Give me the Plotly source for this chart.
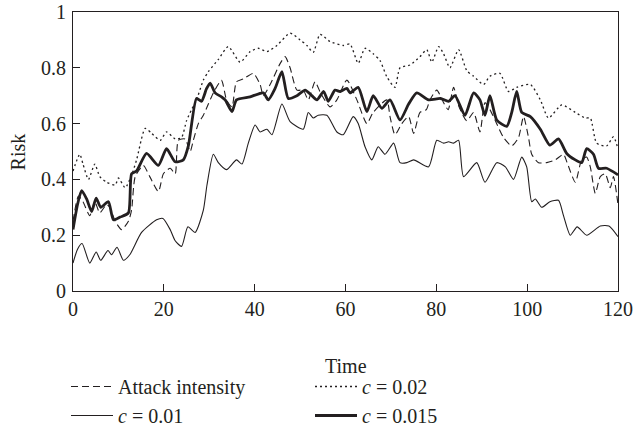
import plotly.graph_objects as go

# ---- data ----
attack_t = [0,1.2,2.2,3.7,4.8,5.9,7.4,8.1,9.3,10.7,
            12.2,12.9,13.7,15.5,16.9,18.8,19.9,21.4,22.5,23.2,
            24.7,25.8,26.5,27.6,28.7,29.8,30.9,32.7,33.8,35,
            36,37.5,39.7,41.2,41.9,43.4,45.6,46.7,47.8,49.3,
            50.7,51.8,53.3,54.5,56.6,58.1,60.3,62.5,64.7,66.1,
            69.1,69.8,70.9,72.4,73.9,75,76.4,77.8,78.6,80.1,
            81.6,82.6,83.8,85,86.7,88.2,89.6,90.7,91.8,93,
            94.8,96.6,98.1,99.2,100.3,101,102.5,104.3,106.2,108,
            108.8,110.6,112,113.1,113.9,115,116.1,117.2,118.3,119,
            120]
attack_v = [0.25,0.34,0.32,0.27,0.32,0.28,0.31,0.30,0.25,0.22,
            0.25,0.29,0.41,0.45,0.41,0.356,0.42,0.44,0.42,0.54,
            0.545,0.50,0.54,0.60,0.63,0.67,0.71,0.755,0.685,0.66,
            0.75,0.76,0.78,0.74,0.70,0.74,0.815,0.84,0.80,0.72,
            0.72,0.685,0.75,0.71,0.66,0.685,0.756,0.685,0.60,0.64,
            0.685,0.625,0.56,0.60,0.625,0.565,0.64,0.65,0.685,0.72,
            0.675,0.65,0.73,0.66,0.61,0.64,0.57,0.675,0.65,0.61,
            0.55,0.52,0.55,0.625,0.55,0.49,0.46,0.46,0.47,0.49,
            0.46,0.39,0.47,0.48,0.445,0.35,0.41,0.42,0.37,0.41,
            0.31]

c002_t = [0,1.5,2.2,3.4,4.8,5.9,7.4,9.3,10,11.5,
          12.9,14,15.9,17.3,19.2,20.6,22.5,23.9,25,26.1,
          27.2,28.7,29.8,32,34.2,36.8,39,40.8,42.7,44.9,
          47.8,50,51.5,52.9,54.4,56.6,59.5,61,62.8,64.3,
          66.1,67.6,69.1,70.9,72,74.2,76.4,77.9,79,80.5,
          81.6,83,84.9,86.7,88.2,90.4,91.8,94,95.9,97.7,
          100.7,102.9,104.7,107.6,110.6,112.8,113.9,115.3,117.5,119,
          120]
c002_v = [0.43,0.49,0.455,0.40,0.455,0.41,0.39,0.38,0.405,0.37,
          0.415,0.47,0.583,0.565,0.54,0.57,0.545,0.55,0.61,0.65,
          0.685,0.756,0.786,0.83,0.876,0.82,0.858,0.87,0.858,0.88,
          0.924,0.90,0.88,0.855,0.92,0.894,0.88,0.885,0.816,0.87,
          0.85,0.826,0.768,0.73,0.80,0.81,0.84,0.865,0.82,0.876,
          0.85,0.80,0.865,0.79,0.77,0.74,0.77,0.78,0.715,0.73,
          0.74,0.685,0.62,0.667,0.64,0.62,0.62,0.53,0.52,0.553,
          0.51]

c001_t = [0,1,2,3.7,5.1,6.1,7.7,8.5,9.7,11.1,
          12.5,15.1,18.4,19.8,21.4,22.5,23.9,25.3,26.9,28.7,
          29.5,30.9,32,33.8,36,37.2,38.6,40.1,41.2,42.7,
          43.8,46,47.8,50.7,51.8,52.9,54,55.9,58.1,59.5,
          61.7,62.8,64.3,65.8,67.2,68.7,70.6,72,73.5,75,
          78.3,80.1,81.6,82.7,83.8,84.9,86,88.9,90.7,93.3,
          95.2,97,98.8,99.9,101,101.8,103.2,105,106.9,108,
          109.5,111,113.1,116.1,118,120]
c001_v = [0.10,0.15,0.17,0.10,0.14,0.11,0.145,0.13,0.157,0.11,
          0.13,0.21,0.255,0.26,0.22,0.18,0.16,0.23,0.21,0.29,
          0.38,0.49,0.46,0.435,0.47,0.455,0.53,0.595,0.57,0.58,
          0.56,0.67,0.607,0.58,0.64,0.62,0.63,0.63,0.57,0.56,
          0.625,0.60,0.517,0.47,0.517,0.49,0.53,0.46,0.46,0.47,
          0.445,0.54,0.53,0.535,0.53,0.54,0.41,0.46,0.39,0.46,
          0.445,0.40,0.48,0.445,0.32,0.33,0.30,0.32,0.325,0.27,
          0.20,0.23,0.20,0.233,0.233,0.195]

c0015_t = [0,1,1.9,3,4.1,5.1,6.1,7.8,8.9,10.4,
           12.2,12.9,14,16.2,18.8,20.6,22.5,24.3,25.4,27.2,
           28.3,29.4,30.2,31.3,32.7,33.5,35,36,39,41.9,
           43,44.5,46,47.4,49.3,51.1,52.6,53.7,55.2,56.2,
           57.7,58.8,60.3,61,62.8,64.7,66.1,68,69.8,72,
           73.9,75.7,78.3,80.9,82.7,84.1,86.3,88.2,89.6,90.7,
           91.8,93.3,95.5,96.6,97.7,98.8,100.7,102.9,105,106.9,
           108.7,110.6,112,113.1,114.6,115.7,117.5,120]
c0015_v = [0.22,0.31,0.36,0.33,0.285,0.333,0.30,0.32,0.255,0.265,
           0.28,0.42,0.43,0.493,0.45,0.51,0.463,0.47,0.52,0.69,
           0.68,0.725,0.745,0.71,0.696,0.685,0.643,0.685,0.696,0.71,
           0.685,0.726,0.786,0.69,0.70,0.72,0.70,0.685,0.715,0.68,
           0.72,0.715,0.726,0.71,0.73,0.643,0.70,0.655,0.685,0.613,
           0.67,0.71,0.685,0.69,0.68,0.70,0.63,0.71,0.685,0.63,
           0.70,0.613,0.59,0.64,0.715,0.64,0.625,0.58,0.523,0.545,
           0.493,0.47,0.46,0.51,0.49,0.44,0.44,0.416]

x_ticks = [0, 20, 40, 60, 80, 100, 120]
y_ticks = [0, 0.2, 0.4, 0.6, 0.8, 1]

INK = "#231f20"
FONT = "Liberation Serif"
FS = 20

fig = go.Figure()
fig.add_trace(go.Scatter(x=attack_t, y=attack_v, mode="lines", name="Attack intensity",
                         line=dict(color=INK, width=1.1, dash="7px,4px", shape="spline", smoothing=0.6)))
fig.add_trace(go.Scatter(x=c002_t, y=c002_v, mode="lines", name="<i>c</i> = 0.02",
                         line=dict(color=INK, width=1.3, dash="2px,3px", shape="spline", smoothing=0.6)))
fig.add_trace(go.Scatter(x=c001_t, y=c001_v, mode="lines", name="<i>c</i> = 0.01",
                         line=dict(color=INK, width=1.1, shape="spline", smoothing=0.6)))
fig.add_trace(go.Scatter(x=c0015_t, y=c0015_v, mode="lines", name="<i>c</i> = 0.015",
                         line=dict(color=INK, width=2.8, shape="spline", smoothing=0.6)))

W, H = 634, 428
fig.update_layout(
    width=W, height=H,
    margin=dict(l=73, r=16, t=12, b=137, autoexpand=False),
    paper_bgcolor="white", plot_bgcolor="white",
    font=dict(family=FONT, size=FS, color=INK),
    showlegend=True,
    hovermode=False,
    legend=dict(orientation="h", xref="container", yref="container",
                x=66 / W, xanchor="left", y=1 - 367 / H, yanchor="top",
                entrywidth=187, entrywidthmode="pixels", itemwidth=42, tracegroupgap=0,
                font=dict(family=FONT, size=FS, color=INK), bgcolor="rgba(0,0,0,0)"),
    annotations=[
        dict(text="Time", xref="paper", yref="paper", x=0.5, y=-0.269,
             xanchor="center", yanchor="middle", showarrow=False, font=dict(size=FS)),
        dict(text="Risk", xref="paper", yref="paper", x=-0.101, y=0.5, textangle=-90,
             xanchor="center", yanchor="middle", showarrow=False, font=dict(size=FS)),
    ],
)
fig.update_xaxes(range=[0, 120], tickvals=x_ticks, ticks="inside", ticklen=7, tickcolor=INK,
                 showline=True, linecolor=INK, linewidth=1, mirror=True, showgrid=False, zeroline=False,
                 automargin=False, tickfont=dict(size=FS), ticklabelstandoff=0,
                 ticklabeloverflow="allow")
fig.update_yaxes(range=[0, 1], tickvals=y_ticks, ticks="inside", ticklen=7, tickcolor=INK,
                 showline=True, linecolor=INK, linewidth=1, mirror=True, showgrid=False, zeroline=False,
                 automargin=False, tickfont=dict(size=FS), ticklabelstandoff=2,
                 ticklabeloverflow="allow")

# remove the page's default body margin so the figure sits at the window origin
fig.write_html("out.html",
               config={"displayModeBar": False, "staticPlot": True},
               post_script="document.body.style.margin='0';document.body.style.overflow='hidden';")
